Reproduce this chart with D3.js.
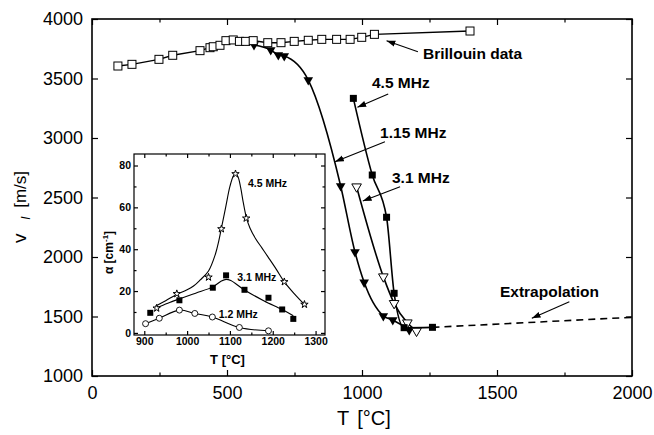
<!DOCTYPE html>
<html>
<head>
<meta charset="utf-8">
<script src="https://cdn.jsdelivr.net/npm/d3@7"></script>
<style>
  body { margin: 0; background: #fff; }
  svg text { font-family: "Liberation Sans", Arial, Helvetica, sans-serif; fill: #000; }
</style>
</head>
<body>
<svg id="chart" width="654" height="435"></svg>
<script>
// ---- main plot data: v_l [m/s] against T [°C] ----
var brillT = [96, 148, 248, 299, 400, 437, 449, 474, 496, 523, 546, 569, 597, 651, 700, 749, 801, 851, 906, 956, 999, 1046, 1400];
var brillV = [3605, 3619, 3661, 3695, 3734, 3759, 3767, 3779, 3818, 3824, 3812, 3812, 3818, 3801, 3801, 3812, 3821, 3829, 3829, 3829, 3846, 3871, 3899];

var mhz115T = [600, 662, 690, 712, 801, 921, 974, 1008, 1079, 1114, 1175];
var mhz115V = [3782, 3740, 3697, 3689, 3487, 2597, 2042, 1787, 1505, 1470, 1387];

var mhz45T = [968, 1038, 1091, 1119, 1156, 1261];
var mhz45V = [3333, 2689, 2334, 1695, 1406, 1409];

var mhz31T = [980, 1079, 1119, 1168, 1202];
var mhz31V = [2591, 1835, 1611, 1448, 1378];

var extrapT = [1261, 2000];
var extrapV = [1409, 1493];

var xTicks = [0, 500, 1000, 1500, 2000];
var xMinor = [250, 750, 1250, 1750];
var yTicks = [1000, 1500, 2000, 2500, 3000, 3500, 4000];

// annotations: label position and arrow (from -> to), in data units
var noteText = ["Brillouin data", "4.5 MHz", "1.15 MHz", "3.1 MHz", "Extrapolation"];
var noteX = [1226, 1037, 1067, 1111, 1511];
var noteY = [3664, 3416, 2996, 2626, 1664];
var arrowFrom = [[1207, 3725], [1097, 3370], [1085, 2969], [1141, 2591], [1768, 1624]];
var arrowTo = [[1091, 3818], [983, 3258], [900, 2801], [1003, 2471], [1629, 1485]];

// ---- inset data: attenuation alpha [cm-1] ----
var a12T = [903, 935, 982, 1018, 1059, 1122, 1190];
var a12 = [4.4, 7.0, 10.9, 9.3, 7.6, 2.6, 1.0];

var a31T = [914, 982, 1060, 1091, 1134, 1190, 1222, 1248];
var a31 = [9.6, 15.6, 21.6, 27.5, 20.6, 16.8, 11.2, 6.7];

var a45T = [929, 976, 1050, 1080, 1113, 1138, 1227, 1274];
var a45 = [11.8, 18.7, 26.6, 49.7, 76.0, 54.8, 24.4, 13.6];

// fitted curves
var fit31T = [928, 955, 983, 1020, 1060, 1080, 1091, 1102, 1134, 1180, 1222, 1248];
var fit31 = [12.0, 14.2, 16.3, 19.0, 22.0, 24.8, 25.6, 25.0, 20.5, 15.3, 11.2, 8.2];
var fit45T = [926, 950, 976, 1000, 1015, 1030, 1050, 1066, 1074, 1080, 1090, 1100, 1108, 1113, 1119, 1125, 1131, 1138, 1147, 1160, 1175, 1190, 1208, 1227, 1250, 1274];
var fit45 = [12.8, 15.4, 18.4, 20.6, 22.4, 25.2, 29.6, 37.6, 44, 50, 60, 70, 75, 76, 74.5, 69.5, 62.5, 55.5, 50, 45, 40.5, 36, 30.5, 24.4, 18.8, 13.6];

var insetXTicks = [900, 1000, 1100, 1200, 1300];
var insetXMinor = [950, 1050, 1150, 1250];
var insetYTicks = [0, 20, 40, 60, 80];
var insetYMinor = [10, 30, 50, 70];

var insetLabels = ["4.5 MHz", "3.1 MHz", "1.2 MHz"];
var insetLabelT = [1142, 1117, 1074];
var insetLabelA = [71.8, 26.9, 9.0];

function zip(a, b) { return a.map(function(v, i) { return [v, b[i]]; }); }

var svg = d3.select("#chart");
var margin = { top: 19, right: 22, bottom: 59, left: 92 },
    width = 654 - margin.left - margin.right,
    height = 435 - margin.top - margin.bottom;

var g = svg.append("g").attr("transform", "translate(" + margin.left + "," + margin.top + ")");

var x = d3.scaleLinear().domain([0, 2000]).range([0, width]);
var y = d3.scaleLinear().domain([1000, 4000]).range([height, 0]);
var fmt = d3.format("d");

function cleanAxis(sel, fontSize, bold) {
  sel.select(".domain").remove();
  sel.attr("font-family", null).attr("font-size", null);
  sel.selectAll("line").attr("stroke", "#000").attr("stroke-width", 1.2);
  sel.selectAll("text").style("font-size", fontSize + "px").style("font-weight", bold ? "bold" : "normal");
}

// main axes, ticks pointing inwards
g.append("g").attr("transform", "translate(0," + height + ")")
  .call(d3.axisBottom(x).tickValues(xTicks).tickSize(-6).tickPadding(10).tickFormat(fmt))
  .call(cleanAxis, 18);
g.append("g").attr("transform", "translate(0," + height + ")")
  .call(d3.axisBottom(x).tickValues(xMinor).tickSize(-3.5).tickFormat(""))
  .call(cleanAxis, 18);
g.append("g")
  .call(d3.axisTop(x).tickValues(xTicks).tickSize(-6).tickFormat(""))
  .call(cleanAxis, 18);
g.append("g")
  .call(d3.axisTop(x).tickValues(xMinor).tickSize(-3.5).tickFormat(""))
  .call(cleanAxis, 18);
g.append("g")
  .call(d3.axisLeft(y).tickValues(yTicks).tickSize(-6).tickPadding(9).tickFormat(fmt))
  .call(cleanAxis, 18);
g.append("g").attr("transform", "translate(" + width + ",0)")
  .call(d3.axisRight(y).tickValues(yTicks).tickSize(-6).tickFormat(""))
  .call(cleanAxis, 18);

g.append("rect").attr("width", width).attr("height", height)
  .attr("fill", "none").attr("stroke", "#000").attr("stroke-width", 1.6);

// axis titles
var xl = svg.append("text")
  .attr("x", 337).attr("y", 425).style("font-size", "20px");
xl.append("tspan").text("T");
xl.append("tspan").attr("dx", 8).text("[°C]");

var yl = svg.append("text")
  .attr("transform", "translate(26,243) rotate(-90)")
  .style("font-size", "17px");
yl.append("tspan").style("font-size", "19px").text("v");
yl.append("tspan").attr("dy", 4).attr("dx", 14).style("font-size", "12px").style("font-style", "italic").text("l");
yl.append("tspan").attr("dy", -4).attr("dx", 9).text("[m/s]");

// curves
var line = d3.line().x(function(d) { return x(d[0]); }).y(function(d) { return y(d[1]); });

g.append("path").datum(zip(brillT, brillV))
  .attr("d", line).attr("fill", "none").attr("stroke", "#000").attr("stroke-width", 1.4);
g.append("path").datum(zip(mhz115T, mhz115V))
  .attr("d", line.curve(d3.curveMonotoneX)).attr("fill", "none").attr("stroke", "#000").attr("stroke-width", 1.6);
g.append("path").datum(zip(mhz45T, mhz45V))
  .attr("d", line.curve(d3.curveMonotoneX)).attr("fill", "none").attr("stroke", "#000").attr("stroke-width", 1.6);
g.append("path").datum(zip(mhz31T, mhz31V))
  .attr("d", line.curve(d3.curveMonotoneX)).attr("fill", "none").attr("stroke", "#000").attr("stroke-width", 1.6);
g.append("path").datum(zip(extrapT, extrapV))
  .attr("d", line.curve(d3.curveLinear)).attr("fill", "none").attr("stroke", "#000")
  .attr("stroke-width", 1.6).attr("stroke-dasharray", "7,5");

// markers
var downTri = d3.symbol().type(d3.symbolTriangle).size(40);

g.selectAll(".tri115").data(zip(mhz115T, mhz115V)).enter().append("path")
  .attr("d", downTri)
  .attr("transform", function(d) { return "translate(" + x(d[0]) + "," + y(d[1]) + ") rotate(180)"; })
  .attr("fill", "#000");

g.selectAll(".tri31").data(zip(mhz31T, mhz31V)).enter().append("path")
  .attr("d", downTri)
  .attr("transform", function(d) { return "translate(" + x(d[0]) + "," + y(d[1]) + ") rotate(180)"; })
  .attr("fill", "#fff").attr("stroke", "#000").attr("stroke-width", 1);

g.selectAll(".sq45").data(zip(mhz45T, mhz45V)).enter().append("rect")
  .attr("x", function(d) { return x(d[0]) - 3.5; })
  .attr("y", function(d) { return y(d[1]) - 3.5; })
  .attr("width", 7).attr("height", 7).attr("fill", "#000");

g.selectAll(".brill").data(zip(brillT, brillV)).enter().append("rect")
  .attr("x", function(d) { return x(d[0]) - 4; })
  .attr("y", function(d) { return y(d[1]) - 4; })
  .attr("width", 8).attr("height", 8)
  .attr("fill", "#fff").attr("stroke", "#000").attr("stroke-width", 1);

// annotations with arrows
svg.append("defs").append("marker")
  .attr("id", "arrow").attr("markerUnits", "userSpaceOnUse")
  .attr("viewBox", "0 -4 10 8").attr("refX", 10).attr("refY", 0)
  .attr("markerWidth", 9).attr("markerHeight", 7).attr("orient", "auto")
  .append("path").attr("d", "M0,-3.5L10,0L0,3.5Z").attr("fill", "#000");

noteText.forEach(function(t, i) {
  g.append("text").attr("x", x(noteX[i])).attr("y", y(noteY[i]))
    .style("font-size", "15.5px").style("font-weight", "bold").text(t);
  g.append("line")
    .attr("x1", x(arrowFrom[i][0])).attr("y1", y(arrowFrom[i][1]))
    .attr("x2", x(arrowTo[i][0])).attr("y2", y(arrowTo[i][1]))
    .attr("stroke", "#000").attr("stroke-width", 1.1)
    .attr("marker-end", "url(#arrow)");
});

// ---- inset ----
var ib = { left: 134, top: 154, width: 191, height: 181 };
var ig = svg.append("g").attr("transform", "translate(" + ib.left + "," + ib.top + ")");
var ix = d3.scaleLinear().domain([876, 1322]).range([0, ib.width]);
var iy = d3.scaleLinear().domain([-1, 85.5]).range([ib.height, 0]);

ig.append("rect").attr("width", ib.width).attr("height", ib.height).attr("fill", "#fff");

ig.append("g").attr("transform", "translate(0," + ib.height + ")")
  .call(d3.axisBottom(ix).tickValues(insetXTicks).tickSize(-4).tickPadding(3).tickFormat(fmt))
  .call(cleanAxis, 10.5, true);
ig.append("g").attr("transform", "translate(0," + ib.height + ")")
  .call(d3.axisBottom(ix).tickValues(insetXMinor).tickSize(-2.5).tickFormat(""))
  .call(cleanAxis, 10.5, true);
ig.append("g")
  .call(d3.axisTop(ix).tickValues(insetXTicks).tickSize(-4).tickFormat(""))
  .call(cleanAxis, 10.5, true);
ig.append("g")
  .call(d3.axisTop(ix).tickValues(insetXMinor).tickSize(-2.5).tickFormat(""))
  .call(cleanAxis, 10.5, true);
ig.append("g")
  .call(d3.axisLeft(iy).tickValues(insetYTicks).tickSize(-4).tickPadding(3).tickFormat(fmt))
  .call(cleanAxis, 10.5, true);
ig.append("g")
  .call(d3.axisLeft(iy).tickValues(insetYMinor).tickSize(-2.5).tickFormat(""))
  .call(cleanAxis, 10.5, true);
ig.append("g").attr("transform", "translate(" + ib.width + ",0)")
  .call(d3.axisRight(iy).tickValues(insetYTicks).tickSize(-4).tickFormat(""))
  .call(cleanAxis, 10.5, true);
ig.append("g").attr("transform", "translate(" + ib.width + ",0)")
  .call(d3.axisRight(iy).tickValues(insetYMinor).tickSize(-2.5).tickFormat(""))
  .call(cleanAxis, 10.5, true);

ig.append("rect").attr("width", ib.width).attr("height", ib.height)
  .attr("fill", "none").attr("stroke", "#000").attr("stroke-width", 1.2);

ig.append("text")
  .attr("x", ib.width / 2 - 2).attr("y", ib.height + 29)
  .attr("text-anchor", "middle").style("font-size", "13px").style("font-weight", "bold")
  .text("T [°C]");

var il = ig.append("text")
  .attr("transform", "translate(-21," + (ib.height / 2 + 8) + ") rotate(-90)")
  .attr("text-anchor", "middle").style("font-size", "12px").style("font-weight", "bold");
il.append("tspan").text("α [cm");
il.append("tspan").attr("dy", -5).style("font-size", "8px").text("-1");
il.append("tspan").attr("dy", 5).text("]");

var iline = d3.line().x(function(d) { return ix(d[0]); }).y(function(d) { return iy(d[1]); })
  .curve(d3.curveCatmullRom);

ig.append("path").datum(zip(fit45T, fit45))
  .attr("d", iline).attr("fill", "none").attr("stroke", "#000").attr("stroke-width", 1.1);
ig.append("path").datum(zip(fit31T, fit31))
  .attr("d", iline).attr("fill", "none").attr("stroke", "#000").attr("stroke-width", 1.1);
ig.append("path").datum(zip(a12T, a12))
  .attr("d", iline).attr("fill", "none").attr("stroke", "#000").attr("stroke-width", 1.1);

ig.selectAll(".c12").data(zip(a12T, a12)).enter().append("circle")
  .attr("cx", function(d) { return ix(d[0]); })
  .attr("cy", function(d) { return iy(d[1]); })
  .attr("r", 3).attr("fill", "#fff").attr("stroke", "#000").attr("stroke-width", 0.9);

ig.selectAll(".s31").data(zip(a31T, a31)).enter().append("rect")
  .attr("x", function(d) { return ix(d[0]) - 3; })
  .attr("y", function(d) { return iy(d[1]) - 3; })
  .attr("width", 6).attr("height", 6).attr("fill", "#000");

var star = d3.symbol().type(d3.symbolStar).size(17);
ig.selectAll(".st45").data(zip(a45T, a45)).enter().append("path")
  .attr("d", star)
  .attr("transform", function(d) { return "translate(" + ix(d[0]) + "," + iy(d[1]) + ")"; })
  .attr("fill", "#fff").attr("stroke", "#000").attr("stroke-width", 1);

insetLabels.forEach(function(t, i) {
  ig.append("text").attr("x", ix(insetLabelT[i])).attr("y", iy(insetLabelA[i]) + 4)
    .style("font-size", "10.5px").style("font-weight", "bold").text(t);
});
</script>
</body>
</html>
